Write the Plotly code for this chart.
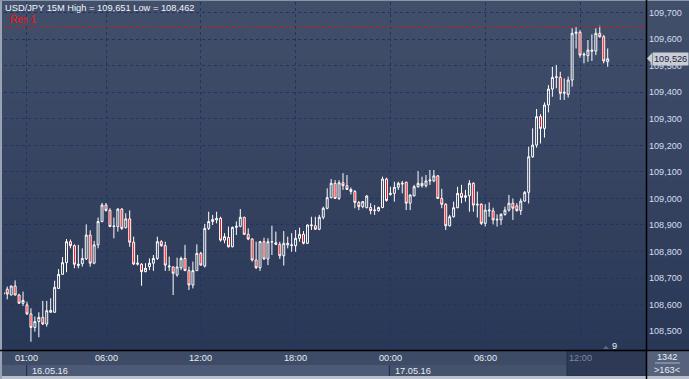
import plotly.graph_objects as go
import pandas as pd

# ---------------- data (USD/JPY, 15-minute bars) ----------------
start_time = "2016-05-15 23:30"
opens = [108.645, 108.658, 108.636, 108.670, 108.636, 108.605, 108.599, 108.565, 108.514, 108.536,
         108.552, 108.527, 108.571, 108.571, 108.661, 108.714, 108.758, 108.837, 108.822, 108.747,
         108.754, 108.772, 108.862, 108.756, 108.825, 108.913, 108.975, 108.955, 108.894, 108.894,
         108.960, 108.890, 108.923, 108.835, 108.752, 108.752, 108.724, 108.743, 108.756, 108.774,
         108.837, 108.822, 108.742, 108.742, 108.712, 108.739, 108.774, 108.728, 108.674, 108.728,
         108.793, 108.745, 108.887, 108.913, 108.919, 108.925, 108.843, 108.853, 108.818, 108.891,
         108.895, 108.929, 108.865, 108.847, 108.768, 108.739, 108.837, 108.772, 108.836, 108.833,
         108.827, 108.784, 108.825, 108.822, 108.822, 108.850, 108.865, 108.831, 108.897, 108.897,
         108.884, 108.929, 108.963, 109.003, 109.057, 109.000, 109.059, 109.048, 109.034, 109.026,
         108.985, 108.969, 108.965, 108.966, 108.954, 108.954, 108.966, 109.073, 109.015, 109.019,
         109.042, 109.054, 109.061, 108.982, 109.010, 109.044, 109.057, 109.048, 109.066, 109.066,
         109.085, 109.000, 108.978, 108.897, 108.931, 108.965, 109.019, 109.004, 109.010, 109.057,
         108.975, 108.978, 108.906, 108.953, 108.953, 108.919, 108.919, 108.940, 108.956, 108.982,
         108.972, 108.954, 108.990, 109.023, 109.157, 109.201, 109.308, 109.264, 109.352, 109.412,
         109.456, 109.456, 109.396, 109.392, 109.446, 109.622, 109.626, 109.540, 109.538, 109.559,
         109.555, 109.622, 109.609, 109.515]
highs = [108.658, 108.668, 108.671, 108.691, 108.641, 108.649, 108.611, 108.586, 108.555, 108.571,
         108.614, 108.614, 108.624, 108.690, 108.734, 108.779, 108.847, 108.845, 108.827, 108.825,
         108.812, 108.902, 108.880, 108.840, 108.928, 108.983, 108.983, 108.963, 108.928, 108.963,
         108.963, 108.944, 108.955, 108.856, 108.787, 108.756, 108.756, 108.774, 108.787, 108.856,
         108.843, 108.837, 108.781, 108.743, 108.777, 108.781, 108.825, 108.743, 108.762, 108.827,
         108.799, 108.904, 108.950, 108.938, 108.950, 108.931, 108.869, 108.894, 108.894, 108.913,
         108.960, 108.931, 108.887, 108.850, 108.837, 108.840, 108.852, 108.850, 108.897, 108.875,
         108.837, 108.877, 108.856, 108.869, 108.881, 108.890, 108.877, 108.902, 108.931, 108.931,
         108.938, 108.969, 109.038, 109.073, 109.069, 109.069, 109.095, 109.088, 109.041, 109.032,
         108.990, 108.990, 109.013, 108.982, 108.975, 108.969, 109.082, 109.078, 109.044, 109.063,
         109.063, 109.066, 109.063, 109.015, 109.051, 109.103, 109.082, 109.088, 109.107, 109.107,
         109.088, 109.036, 108.982, 108.938, 108.988, 109.044, 109.051, 109.032, 109.069, 109.061,
         109.026, 108.982, 108.978, 108.985, 108.965, 108.940, 108.944, 108.969, 109.013, 109.000,
         108.982, 109.000, 109.028, 109.195, 109.264, 109.337, 109.317, 109.362, 109.427, 109.496,
         109.503, 109.477, 109.452, 109.459, 109.641, 109.647, 109.634, 109.550, 109.597, 109.618,
         109.641, 109.651, 109.616, 109.565]
lows = [108.611, 108.620, 108.636, 108.635, 108.604, 108.595, 108.561, 108.460, 108.498, 108.477,
        108.523, 108.517, 108.570, 108.570, 108.659, 108.713, 108.722, 108.812, 108.737, 108.737,
        108.743, 108.768, 108.743, 108.752, 108.812, 108.910, 108.950, 108.893, 108.850, 108.875,
        108.881, 108.887, 108.818, 108.749, 108.747, 108.671, 108.722, 108.730, 108.727, 108.768,
        108.818, 108.727, 108.727, 108.636, 108.705, 108.730, 108.727, 108.655, 108.661, 108.727,
        108.747, 108.740, 108.881, 108.900, 108.906, 108.837, 108.831, 108.815, 108.816, 108.862,
        108.891, 108.862, 108.843, 108.762, 108.734, 108.727, 108.768, 108.749, 108.787, 108.825,
        108.772, 108.747, 108.812, 108.799, 108.799, 108.837, 108.827, 108.828, 108.881, 108.881,
        108.880, 108.921, 108.959, 109.000, 108.998, 108.994, 109.032, 109.032, 109.015, 108.963,
        108.956, 108.963, 108.963, 108.940, 108.938, 108.950, 108.963, 108.988, 109.010, 108.988,
        109.032, 109.019, 108.956, 108.956, 109.007, 109.041, 109.041, 109.041, 109.051, 109.061,
        108.998, 108.963, 108.881, 108.894, 108.928, 108.963, 108.982, 108.988, 108.950, 108.950,
        108.928, 108.900, 108.894, 108.931, 108.902, 108.894, 108.900, 108.935, 108.950, 108.919,
        108.950, 108.938, 108.988, 108.981, 109.153, 109.191, 109.207, 109.229, 109.324, 109.383,
        109.415, 109.371, 109.371, 109.380, 109.421, 109.565, 109.530, 109.509, 109.515, 109.518,
        109.540, 109.606, 109.509, 109.496]
closes = [108.640, 108.640, 108.670, 108.636, 108.605, 108.616, 108.565, 108.514, 108.536, 108.552,
          108.527, 108.577, 108.578, 108.665, 108.714, 108.758, 108.837, 108.822, 108.752, 108.752,
          108.774, 108.862, 108.756, 108.825, 108.913, 108.975, 108.955, 108.894, 108.896, 108.960,
          108.887, 108.923, 108.835, 108.753, 108.756, 108.724, 108.737, 108.756, 108.774, 108.837,
          108.822, 108.749, 108.745, 108.718, 108.742, 108.774, 108.728, 108.674, 108.728, 108.793,
          108.749, 108.887, 108.913, 108.921, 108.925, 108.843, 108.856, 108.818, 108.891, 108.895,
          108.929, 108.865, 108.847, 108.768, 108.739, 108.837, 108.772, 108.837, 108.837, 108.827,
          108.784, 108.831, 108.831, 108.825, 108.850, 108.865, 108.831, 108.900, 108.900, 108.884,
          108.929, 108.963, 109.003, 109.057, 109.000, 109.059, 109.048, 109.034, 109.026, 108.985,
          108.969, 108.988, 109.009, 108.954, 108.956, 108.966, 109.073, 108.992, 109.019, 109.042,
          109.057, 109.057, 108.982, 109.013, 109.044, 109.057, 109.048, 109.066, 109.069, 109.085,
          109.000, 108.978, 108.897, 108.931, 108.965, 109.019, 109.004, 109.010, 109.057, 108.975,
          108.978, 108.906, 108.956, 108.956, 108.919, 108.921, 108.940, 108.956, 108.982, 108.963,
          108.954, 108.990, 109.023, 109.157, 109.201, 109.308, 109.264, 109.352, 109.412, 109.456,
          109.458, 109.396, 109.400, 109.446, 109.622, 109.626, 109.540, 109.543, 109.559, 109.555,
          109.622, 109.609, 109.518, 109.526]

tick_times = ["2016-05-16 01:00", "2016-05-16 06:00", "2016-05-16 12:00", "2016-05-16 18:00",
              "2016-05-17 00:00", "2016-05-17 06:00", "2016-05-17 12:00"]
tick_labels = ["01:00", "06:00", "12:00", "18:00", "00:00", "06:00", "12:00"]
date_times = ["2016-05-16 01:00", "2016-05-17 00:00"]
date_labels = ["16.05.16", "17.05.16"]
price_ticks = [108.5, 108.6, 108.7, 108.8, 108.9, 109.0, 109.1, 109.2, 109.3, 109.4, 109.5, 109.6, 109.7]
res1_level = 109.647
title_text = "USD/JPY 15M High = 109,651 Low = 108,462"
bars_visible = ">163<"
bars_total = "1342"

times = pd.date_range(start_time, periods=len(opens), freq="15min")
t0 = pd.Timestamp(start_time)
x_range = [t0 + pd.Timedelta(minutes=2.7), t0 + pd.Timedelta(minutes=15 * 162.7)]
y_range = [108.429, 109.740]

# ---------------- layout helpers (pixels -> paper) ----------------
W, H = 689, 379
ML, MR, MT, MB = 4, 43, 2, 29
PW, PH = W - ML - MR, H - MT - MB


def px(x):
    return (x - ML) / PW


def py(y):
    return (H - MB - y) / PH


FONT = "Liberation Sans, Arial, sans-serif"

fig = go.Figure()
fig.add_trace(go.Candlestick(
    x=times, open=opens, high=highs, low=lows, close=closes,
    increasing=dict(line=dict(color="#ffffff", width=1), fillcolor="rgba(0,0,0,0)"),
    decreasing=dict(line=dict(color="#ffffff", width=1), fillcolor="#ff0000"),
    whiskerwidth=0, showlegend=False, hoverinfo="skip",
))

shapes = []
# background gradient
top_c = (65, 79, 107)
bot_c = (42, 56, 87)
N = 35
for i in range(N):
    f = i / (N - 1)
    c = tuple(round(top_c[k] + (bot_c[k] - top_c[k]) * f) for k in range(3))
    shapes.append(dict(type="rect", xref="paper", yref="paper",
                       x0=px(0), x1=px(W), y0=py(350 * (i + 1) / N + 0.5), y1=py(350 * i / N),
                       fillcolor="rgb(%d,%d,%d)" % c, line=dict(width=0), layer="below"))
# bottom axis panels
def rect(x0, x1, y0, y1, color, layer="below", lc=None):
    shapes.append(dict(type="rect", xref="paper", yref="paper",
                       x0=px(x0), x1=px(x1), y0=py(y1), y1=py(y0),
                       fillcolor=color, line=dict(width=1 if lc else 0, color=lc or color), layer=layer))

rect(0, 646, 350, 365, "#3e4b66")
rect(0, 389, 365, 376, "#4d5a75")
rect(389, 567, 365, 376, "#45526c")
rect(567, 646, 350, 376, "#2d3955", lc="#24304a")
rect(646, 689, 350, 379, "#56627c")
rect(0, 689, 376, 379, "#b9c0cc")
rect(0, 2, 0, 379, "#9aa3b4")
rect(0, 689, 0, 1, "#8a94a8")
# separators
for xp in (26.7, 389.3):
    shapes.append(dict(type="line", xref="paper", yref="paper", x0=px(xp), x1=px(xp),
                       y0=py(376), y1=py(365), line=dict(color="#1d2b48", width=1)))
# black frame lines
shapes.append(dict(type="line", xref="paper", yref="paper", x0=px(646.5), x1=px(646.5),
                   y0=py(379), y1=py(0), line=dict(color="#000000", width=1.5)))
shapes.append(dict(type="line", xref="paper", yref="paper", x0=px(0), x1=px(689),
                   y0=py(350.5), y1=py(350.5), line=dict(color="#000000", width=1.5)))
# divider in bottom-right box
shapes.append(dict(type="line", xref="paper", yref="paper", x0=px(655), x1=px(680),
                   y0=py(363), y1=py(363), line=dict(color="#a8b2c4", width=1)))
# resistance line
shapes.append(dict(type="line", xref="paper", yref="y", x0=0, x1=1, y0=res1_level, y1=res1_level,
                   line=dict(color="#d01818", width=1, dash="3px,3px")))
# price marker arrow
shapes.append(dict(type="path", xref="paper", yref="paper",
                   path="M %f %f L %f %f L %f %f Z" % (px(647), py(58.5), px(652), py(53), px(652), py(64)),
                   fillcolor="#c9cdd5", line=dict(width=0)))
# small triangle near "9"
shapes.append(dict(type="path", xref="paper", yref="paper",
                   path="M %f %f L %f %f L %f %f Z" % (px(603), py(349), px(606), py(346), px(609), py(349)),
                   fillcolor="#5d6b88", line=dict(width=0)))

ann = []
for t, lab in zip(tick_times, tick_labels):
    col = "#7d889c" if t == tick_times[-1] else "#e6ecf5"
    ann.append(dict(x=t, xref="x", y=py(357.5), yref="paper", text=lab, showarrow=False,
                    xanchor="center", yanchor="middle", font=dict(family=FONT, size=9.2, color=col)))
for t, lab in zip(date_times, date_labels):
    ann.append(dict(x=t, xref="x", y=py(370.5), yref="paper", text=lab, showarrow=False,
                    xanchor="left", yanchor="middle", xshift=3,
                    font=dict(family=FONT, size=9.2, color="#e6ecf5")))
ann.append(dict(x=px(3), xref="paper", y=py(8), yref="paper", text=title_text, showarrow=False,
                xanchor="left", yanchor="middle", font=dict(family=FONT, size=9.3, color="#f2f4f8")))
ann.append(dict(x=px(8), xref="paper", y=py(19.5), yref="paper", text="Res 1", showarrow=False,
                xanchor="left", yanchor="middle", font=dict(family=FONT, size=10, color="#ff1010")))
ann.append(dict(x=px(652), xref="paper", y=closes[-1], yref="y", text="109,526", showarrow=False,
                xanchor="left", yanchor="middle", bgcolor="#c9cdd5", borderpad=1,
                font=dict(family=FONT, size=9.2, color="#1a2440")))
ann.append(dict(x=px(614), xref="paper", y=py(345.5), yref="paper", text="9", showarrow=False,
                xanchor="center", yanchor="middle", font=dict(family=FONT, size=9.2, color="#e6ecf5")))
ann.append(dict(x=px(667), xref="paper", y=py(357), yref="paper", text=bars_total, showarrow=False,
                xanchor="center", yanchor="middle", font=dict(family=FONT, size=9.2, color="#e6ecf5")))
ann.append(dict(x=px(667), xref="paper", y=py(369.5), yref="paper", text=bars_visible, showarrow=False,
                xanchor="center", yanchor="middle", font=dict(family=FONT, size=9.2, color="#e6ecf5")))

fig.update_layout(
    width=W, height=H, margin=dict(l=ML, r=MR, t=MT, b=MB, pad=0),
    paper_bgcolor="#34425f", plot_bgcolor="rgba(0,0,0,0)",
    separators=",.", showlegend=False,
    shapes=shapes, annotations=ann,
    xaxis=dict(type="date", range=x_range, rangeslider=dict(visible=False),
               tickvals=tick_times, showticklabels=False, ticks="",
               showgrid=True, gridcolor="#1a3566", griddash="dot", gridwidth=1,
               zeroline=False, showline=False, fixedrange=True),
    yaxis=dict(side="right", range=y_range, tickvals=price_ticks, tickformat=".3f",
               ticks="", ticklabelstandoff=2,
               tickfont=dict(family=FONT, size=9.1, color="#d4def0"),
               showgrid=True, gridcolor="#1a3566", griddash="dot", gridwidth=1,
               zeroline=False, showline=False, fixedrange=True),
)

fig.write_html("out.html", config={"displayModeBar": False})
